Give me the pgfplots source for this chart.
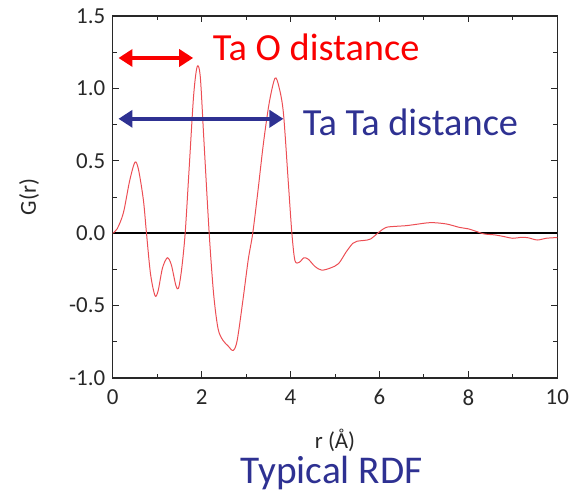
\documentclass[border=0pt]{standalone}
\usepackage{pgfplots}
\pgfplotsset{compat=1.18}
\usepackage{fontspec}
\setmainfont{Carlito}
\usetikzlibrary{arrows.meta}
\definecolor{curvered}{RGB}{236,78,84}
\definecolor{arrowred}{RGB}{250,0,0}
\definecolor{navy}{RGB}{46,49,146}
\definecolor{axgray}{RGB}{40,40,40}
\begin{document}
\begin{tikzpicture}
\path[use as bounding box] (-112.7bp,-117bp) rectangle (468.3bp,378bp);
\begin{axis}[
  at={(0,0)}, anchor=south west,
  scale only axis, width=444.6bp, height=362bp,
  xmin=0, xmax=10, ymin=-1, ymax=1.5,
  xtick={0,2,4,6,8,10}, ytick={-1,-0.5,0,0.5,1,1.5},
  minor xtick={1,3,5,7,9}, minor ytick={-0.75,-0.25,0.25,0.75,1.25},
  tick align=inside, major tick length=6.5bp, minor tick length=4bp,
  tick style={axgray, line width=1pt},
  axis line style={axgray, line width=1.3pt},
  /pgf/number format/assume math mode=true,
  yticklabel style={/pgf/number format/fixed, /pgf/number format/fixed zerofill, /pgf/number format/precision=1, xshift=-4bp},
  tick label style={font=\fontsize{23}{23}\selectfont, text=axgray},
  xticklabel style={yshift=-8bp},
  xlabel={\fontsize{23}{23}\selectfont r (Å)}, ylabel={\fontsize{23}{23}\selectfont G(r)},
  label style={text=axgray},
  xlabel style={at={(axis description cs:0.5,-0.171)}, anchor=center},
  ylabel style={at={(axis description cs:-0.188,0.5)}, anchor=center},
  clip=true,
]
\addplot[black, line width=1.6pt, forget plot] coordinates {(0,0) (10,0)};
\addplot[curvered, line width=1pt, smooth, tension=0.5] coordinates {
(0,0) (0.1,0.03) (0.24,0.14) (0.38,0.36) (0.5,0.49) (0.58,0.44) (0.69,0.23)
(0.76,0.0) (0.85,-0.28) (0.95,-0.43) (1.02,-0.40) (1.12,-0.24) (1.23,-0.17)
(1.32,-0.22) (1.42,-0.36) (1.48,-0.38) (1.55,-0.25) (1.63,0.0) (1.72,0.45)
(1.82,0.95) (1.90,1.15) (1.97,1.08) (2.05,0.65) (2.17,0.0) (2.27,-0.42)
(2.37,-0.66) (2.48,-0.74) (2.6,-0.78) (2.71,-0.81) (2.8,-0.74) (2.93,-0.46)
(3.05,-0.18) (3.15,0.0) (3.27,0.3) (3.39,0.62) (3.52,0.90) (3.65,1.07)
(3.74,1.01) (3.84,0.83) (3.95,0.35) (4.03,0.0) (4.1,-0.19) (4.2,-0.20)
(4.3,-0.17) (4.4,-0.18) (4.55,-0.23) (4.7,-0.255) (4.9,-0.24) (5.08,-0.21)
(5.25,-0.13) (5.4,-0.07) (5.5,-0.055) (5.65,-0.05) (5.8,-0.04) (6.0,0.01)
(6.15,0.04) (6.35,0.047) (6.6,0.052) (6.8,0.06) (7.15,0.073) (7.5,0.064)
(7.8,0.04) (8.0,0.03) (8.2,0.01) (8.35,-0.005) (8.6,-0.012) (8.75,-0.02)
(9.0,-0.035) (9.2,-0.028) (9.35,-0.032) (9.55,-0.047) (9.75,-0.035) (10,-0.03)
};
\draw[arrowred, line width=4bp, {Triangle[length=14bp,width=17bp]}-{Triangle[length=14bp,width=17bp]}]
  (axis cs:0.13,1.21) -- (axis cs:1.81,1.21);
\draw[navy, line width=4bp, {Triangle[length=14bp,width=17bp]}-{Triangle[length=14bp,width=17bp]}]
  (axis cs:0.13,0.79) -- (axis cs:3.84,0.79);
\end{axis}
\node[anchor=west, text=arrowred, font=\fontsize{38.5}{38.5}\selectfont, inner sep=0pt] at (100bp,331bp) {Ta O distance};
\node[anchor=west, text=navy, font=\fontsize{38.5}{38.5}\selectfont, inner sep=0pt] at (190bp,256bp) {Ta Ta distance};
\node[anchor=center, text=navy, font=\fontsize{39.5}{39.5}\selectfont, inner sep=0pt] at (219bp,-95bp) {Typical RDF};
\end{tikzpicture}
\end{document}
